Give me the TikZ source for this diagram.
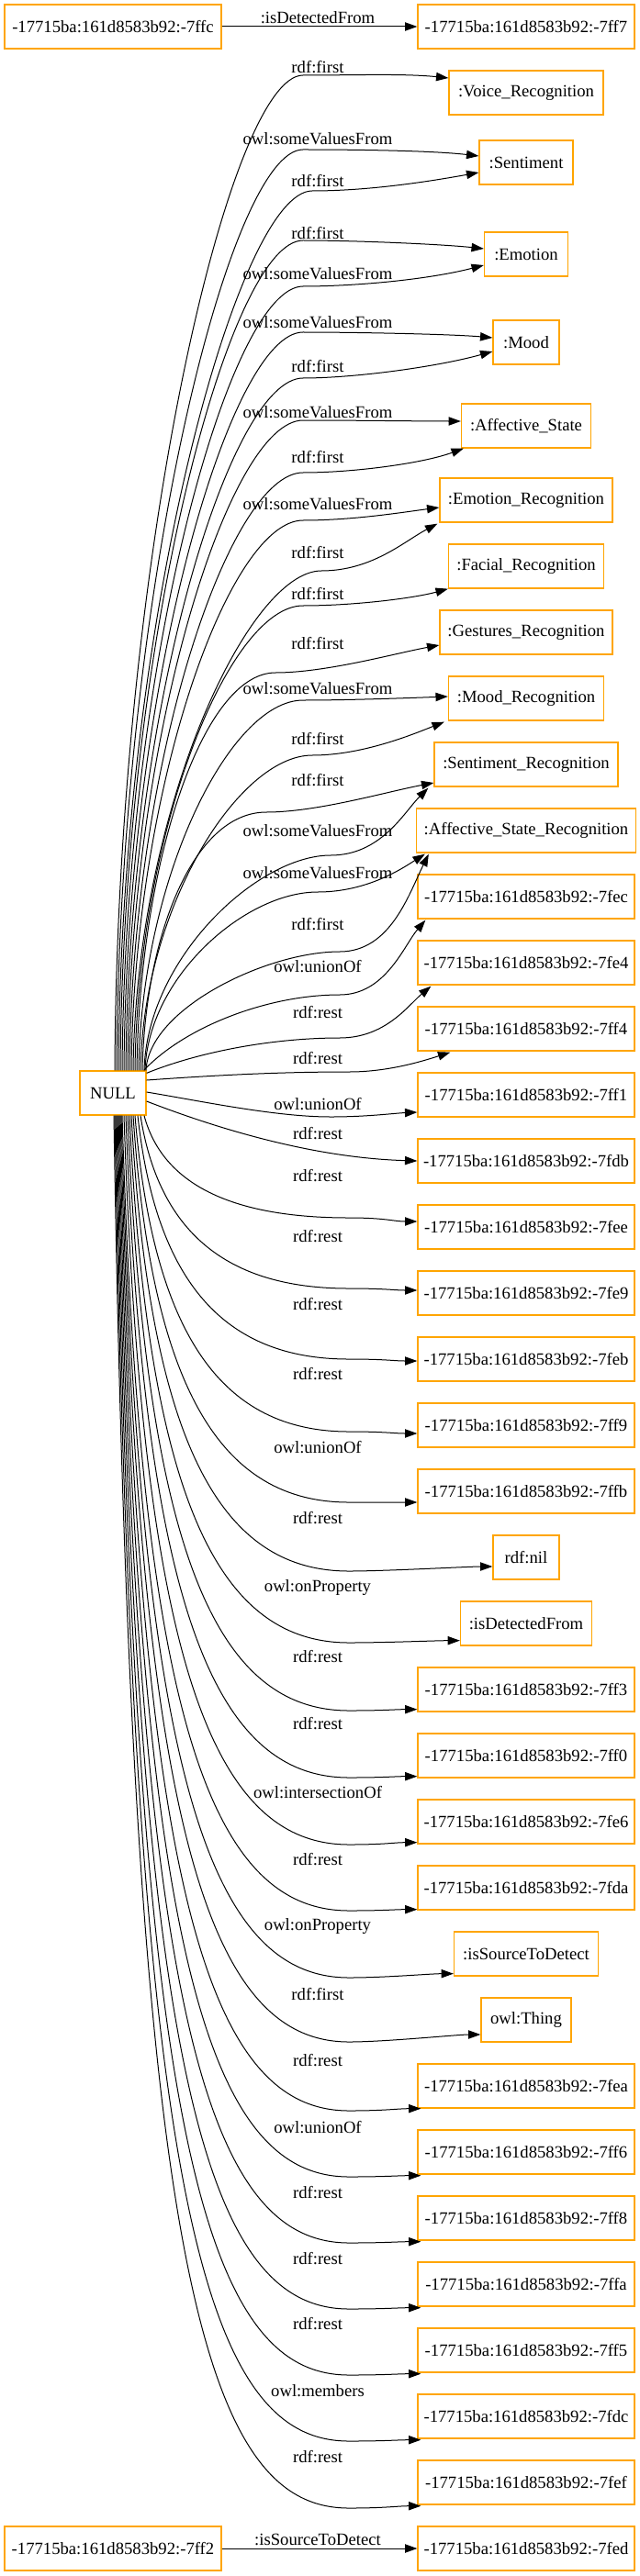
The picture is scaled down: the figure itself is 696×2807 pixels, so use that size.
\documentclass[tikz,border=0pt]{standalone}
\usepackage{fontspec}
\setmainfont{Liberation Serif}
\usetikzlibrary{arrows.meta,calc}
\definecolor{gvorange}{HTML}{FFA500}
\tikzset{
  box/.style={draw=gvorange, line width=1pt, fill=white, minimum height=36pt, inner xsep=3pt, inner ysep=0pt, font=\fontsize{14pt}{16pt}\selectfont, text=black},
  edge/.style={draw=black, line width=0.75pt, -{Triangle[length=10pt,width=7pt]}},
  elabel/.style={font=\fontsize{14pt}{16pt}\selectfont, inner sep=0pt, text=black},
}
% #1 dx, #2 via x, #3 via y, #4 anchor, #5 offset, #6 control, #7 label, #8 label y
\newcommand\upedge[8]{%
  \draw[edge] ($(NULL.north)+(#1,0)$) .. controls ({126+#1},{#3+0.48*(1167-#3)}) and ({#2-80},#3) .. (#2,#3) .. controls ({#2+55},#3) and #6 .. ($(#4)+#5$);
  \node[elabel] at (346,#8) {#7};
}
% #1 dx, #2 via y, #3 anchor, #4 offset, #5 label, #6 label y
\newcommand\loedge[6]{%
  \draw[edge] ($(NULL.south)+(#1,0)$) .. controls ({143+#1},{1215+(0.66+0.0001*(#2-1215))*(#2-1215)}) and ({218+#1},#2) .. (380,#2) .. controls (420,#2) and ($(#3)+#4+(-25,0)$) .. ($(#3)+#4$);
  \node[elabel] at (346,#6) {#5};
}
\begin{document}
\begin{tikzpicture}[x=0.75pt,y=-0.75pt]
\useasboundingbox (0,0) rectangle (696,2807);
% left column
\node[box, minimum width=177pt] (a7ffc) at (123,29) {-17715ba:161d8583b92:-7ffc};
\node[box, minimum width=54pt] (NULL) at (123,1191) {NULL};
\node[box, minimum width=177pt] (a7ff2) at (123,2777) {-17715ba:161d8583b92:-7ff2};
% right column
\node[box, minimum width=177pt] (r7ff7) at (573,29) {-17715ba:161d8583b92:-7ff7};
\node[box, minimum width=126pt] (voice) at (573,101) {:Voice\_Recognition};
\node[box, minimum width=76.5pt] (sent) at (573,177) {:Sentiment};
\node[box, minimum width=68.25pt] (emo) at (573,277) {:Emotion};
\node[box, minimum width=54pt] (mood) at (573,373) {:Mood};
\node[box, minimum width=105.75pt] (as) at (573,464) {:Affective\_State};
\node[box, minimum width=141pt] (er) at (573,545) {:Emotion\_Recognition};
\node[box, minimum width=126.75pt] (fr) at (573,617) {:Facial\_Recognition};
\node[box, minimum width=141pt] (gr) at (573,689) {:Gestures\_Recognition};
\node[box, minimum width=126.75pt] (mr) at (573,761) {:Mood\_Recognition};
\node[box, minimum width=150pt] (sr) at (573,833) {:Sentiment\_Recognition};
\node[box, minimum width=179.25pt] (asr) at (573,905) {:Affective\_State\_Recognition};
\node[box, minimum width=177pt] (fec) at (573,977) {-17715ba:161d8583b92:-7fec};
\node[box, minimum width=177pt] (fe4) at (573,1049) {-17715ba:161d8583b92:-7fe4};
\node[box, minimum width=177pt] (ff4) at (573,1121) {-17715ba:161d8583b92:-7ff4};
\node[box, minimum width=177pt] (ff1) at (573,1193) {-17715ba:161d8583b92:-7ff1};
\node[box, minimum width=177pt] (fdb) at (573,1265) {-17715ba:161d8583b92:-7fdb};
\node[box, minimum width=177pt] (fee) at (573,1337) {-17715ba:161d8583b92:-7fee};
\node[box, minimum width=177pt] (fe9) at (573,1409) {-17715ba:161d8583b92:-7fe9};
\node[box, minimum width=177pt] (feb) at (573,1481) {-17715ba:161d8583b92:-7feb};
\node[box, minimum width=177pt] (ff9) at (573,1553) {-17715ba:161d8583b92:-7ff9};
\node[box, minimum width=177pt] (ffb) at (573,1625) {-17715ba:161d8583b92:-7ffb};
\node[box, minimum width=54pt] (nil) at (573,1697) {rdf:nil};
\node[box, minimum width=107.25pt] (isd) at (573,1769) {:isDetectedFrom};
\node[box, minimum width=177pt] (ff3) at (573,1841) {-17715ba:161d8583b92:-7ff3};
\node[box, minimum width=177pt] (ff0) at (573,1913) {-17715ba:161d8583b92:-7ff0};
\node[box, minimum width=177pt] (fe6) at (573,1985) {-17715ba:161d8583b92:-7fe6};
\node[box, minimum width=177pt] (fda) at (573,2057) {-17715ba:161d8583b92:-7fda};
\node[box, minimum width=117.75pt] (isst) at (573,2129) {:isSourceToDetect};
\node[box, minimum width=73.5pt] (thing) at (573,2201) {owl:Thing};
\node[box, minimum width=177pt] (fea) at (573,2273) {-17715ba:161d8583b92:-7fea};
\node[box, minimum width=177pt] (ff6) at (573,2345) {-17715ba:161d8583b92:-7ff6};
\node[box, minimum width=177pt] (ff8) at (573,2417) {-17715ba:161d8583b92:-7ff8};
\node[box, minimum width=177pt] (ffa) at (573,2489) {-17715ba:161d8583b92:-7ffa};
\node[box, minimum width=177pt] (ff5) at (573,2561) {-17715ba:161d8583b92:-7ff5};
\node[box, minimum width=177pt] (fdc) at (573,2633) {-17715ba:161d8583b92:-7fdc};
\node[box, minimum width=177pt] (fef) at (573,2705) {-17715ba:161d8583b92:-7fef};
\node[box, minimum width=177pt] (fed) at (573,2777) {-17715ba:161d8583b92:-7fed};
% straight edges
\draw[edge] (a7ffc) -- (r7ff7);
\node[elabel] at (346,19) {:isDetectedFrom};
\draw[edge] (a7ff2) -- (fed);
\node[elabel] at (346,2767) {:isSourceToDetect};
% upper edges
\upedge{2}{330}{82}{voice.west}{(0,-16)}{(440,80)}{rdf:first}{73}
\upedge{4}{330}{163}{sent.west}{(0,-7)}{(470,164)}{owl:someValuesFrom}{151}
\upedge{6}{340}{208}{sent.west}{(0,11)}{(455,200)}{rdf:first}{197}
\upedge{8}{330}{262}{emo.west}{(0,-6)}{(480,266)}{rdf:first}{254}
\upedge{10}{330}{312}{emo.west}{(0,12)}{(465,305)}{owl:someValuesFrom}{298}
\upedge{12}{330}{362}{mood.west}{(0,-5)}{(490,364)}{owl:someValuesFrom}{351}
\upedge{14}{330}{412}{mood.west}{(0,10)}{(475,400)}{rdf:first}{399}
\upedge{16}{330}{458}{as.west}{(0,-5)}{(460,459)}{owl:someValuesFrom}{449}
\upedge{18}{330}{515}{as.south west}{(3,0)}{(460,505)}{rdf:first}{498}
\upedge{20}{330}{567}{er.west}{(0,8)}{(440,558)}{owl:someValuesFrom}{549}
\upedge{22}{350}{622}{er.south west}{(-2,1)}{(440,590)}{rdf:first}{602}
\upedge{24}{330}{660}{fr.south west}{(0,0)}{(450,652)}{rdf:first}{647}
\upedge{26}{300}{733}{gr.west}{(0,14)}{(430,712)}{rdf:first}{701}
\upedge{28}{330}{763}{mr.west}{(0,-2)}{(460,760)}{owl:someValuesFrom}{750}
\upedge{30}{340}{823}{mr.south west}{(-4,1)}{(450,800)}{rdf:first}{805}
\upedge{32}{290}{885}{sr.west}{(0,20)}{(420,863)}{rdf:first}{850}
\upedge{34}{360}{932}{sr.south west}{(-6,1)}{(440,885)}{owl:someValuesFrom}{905}
\upedge{35}{346}{972}{asr.south west}{(10,1)}{(440,945)}{owl:someValuesFrom}{951}
\upedge{36}{370}{1037}{asr.south west}{(14,1)}{(445,975)}{rdf:first}{1007}
% edges near NULL level
\draw[edge] ($(NULL.north east)+(-3,0)$) .. controls (200,1120) and (290,1084) .. (370,1084) .. controls (420,1084) and (440,1030) .. ($(fec.south west)+(9,1)$);
\node[elabel] at (346,1053) {owl:unionOf};
\draw[edge] ($(NULL.north east)+(0,3)$) .. controls (220,1145) and (300,1131) .. (370,1131) .. controls (420,1131) and (445,1095) .. ($(fe4.south west)+(15,1)$);
\node[elabel] at (346,1103) {rdf:rest};
\draw[edge] ($(NULL.east)+(0,-14)$) .. controls (230,1172) and (300,1168) .. (380,1168) .. controls (420,1168) and (455,1158) .. ($(ff4.south west)+(36,1)$);
\node[elabel] at (346,1153) {rdf:rest};
\draw[edge] ($(NULL.east)+(0,-1)$) .. controls (220,1200) and (300,1217) .. (360,1217) .. controls (400,1217) and (430,1213) .. ($(ff1.west)+(0,19)$);
\node[elabel] at (346,1203) {owl:unionOf};
\draw[edge] ($(NULL.east)+(0,9)$) .. controls (250,1235) and (350,1262) .. (fdb.west);
\node[elabel] at (346,1235) {rdf:rest};
% lower edges
\loedge{34}{1327}{fee.west}{(0,-6)}{rdf:rest}{1281}
\loedge{30}{1404}{fe9.west}{(0,-3)}{rdf:rest}{1347}
\loedge{27}{1481}{feb.west}{(0,2)}{rdf:rest}{1421}
\loedge{24}{1560}{ff9.west}{(0,9)}{rdf:rest}{1497}
\loedge{22}{1637}{ffb.west}{(0,12)}{owl:unionOf}{1577}
\loedge{20}{1712}{nil.west}{(0,10)}{rdf:rest}{1654}
\loedge{18}{1790}{isd.south west}{(0,-6)}{owl:onProperty}{1730}
\loedge{16}{1864}{ff3.south west}{(0,-3)}{rdf:rest}{1805}
\loedge{14}{1937}{ff0.south west}{(0,-2)}{rdf:rest}{1878}
\loedge{12}{2010}{fe6.south west}{(0,-2)}{owl:intersectionOf}{1953}
\loedge{10}{2082}{fda.south west}{(0,-1)}{rdf:rest}{2026}
\loedge{9}{2155}{isst.south west}{(0,-3)}{owl:onProperty}{2099}
\loedge{8}{2225}{thing.west}{(0,16)}{rdf:first}{2173}
\loedge{7}{2300}{fea.south west}{(4,0)}{rdf:rest}{2245}
\loedge{6}{2372}{ff6.south west}{(4,1)}{owl:unionOf}{2318}
\loedge{5}{2444}{ff8.south west}{(4,1)}{rdf:rest}{2389}
\loedge{4}{2516}{ffa.south west}{(4,1)}{rdf:rest}{2461}
\loedge{3}{2588}{ff5.south west}{(4,1)}{rdf:rest}{2532}
\loedge{2}{2660}{fdc.south west}{(4,1)}{owl:members}{2605}
\loedge{1}{2733}{fef.south west}{(4,1)}{rdf:rest}{2677}
\end{tikzpicture}
\end{document}
